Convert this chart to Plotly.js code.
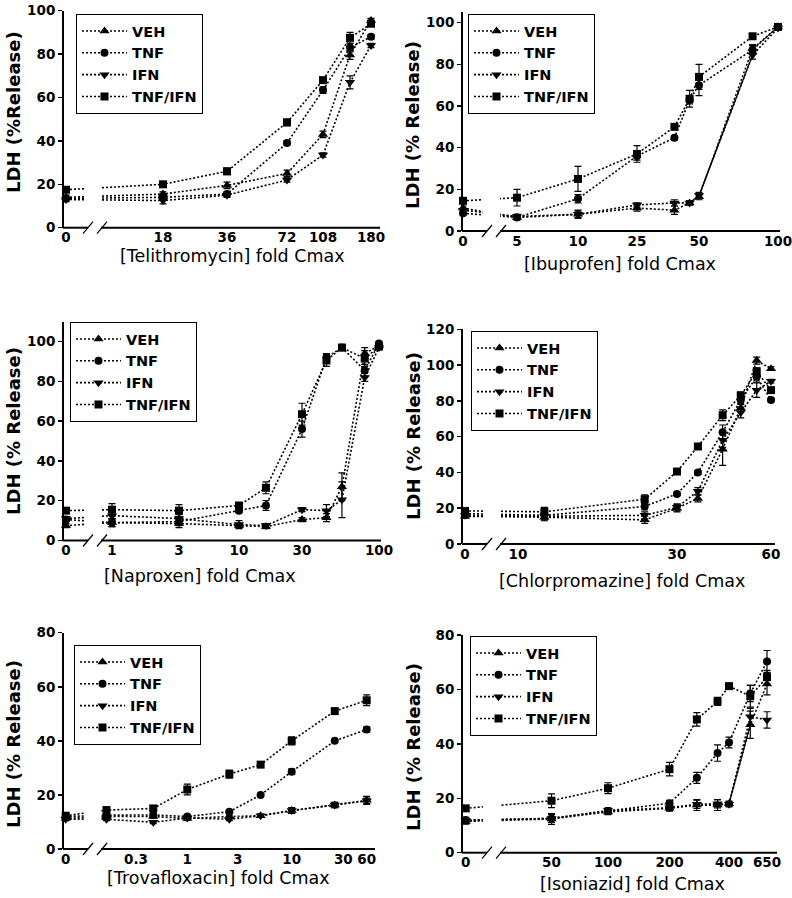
<!DOCTYPE html>
<html><head><meta charset="utf-8">
<script src="https://cdn.plot.ly/plotly-3.0.1.min.js"></script>
<style>html,body{margin:0;padding:0;background:#fff}#chart{width:792px;height:898px}</style>
</head><body><div id="chart"></div>
<script>
// ---------------- DATA ----------------
const seriesNames = ['VEH', 'TNF', 'IFN', 'TNF/IFN'];

// Telithromycin
const telConc = [0, 18, 36, 72, 108, 144, 180];
const telVEH = [14, 15.5, 19.5, 25, 43, 79.6, 95.5];
const telTNF = [13.5, 14, 15.5, 39, 63.4, 83, 88];
const telIFN = [13, 12.5, 15, 22, 33.5, 67, 84];
const telTNFIFN = [17.5, 20, 26, 48.5, 68, 87.5, 94];
const telErrVEH = [1, 1, 1.5, 1.5, 1.5, 2, 1];
const telErrTNF = [1, 1, 1, 1, 1.5, 2, 1];
const telErrIFN = [1, 1.5, 1, 1, 1, 3, 1];
const telErrTNFIFN = [1, 1, 1.5, 1.5, 1, 2.5, 1];
const telTicks = [0, 18, 36, 72, 108, 180];

// Ibuprofen
const ibuConc = [0, 5, 10, 25, 38, 45, 50, 80, 100];
const ibuVEH = [11, 6.5, 8, 11, 10, 13.5, 16.5, 87.5, 98];
const ibuTNF = [8.5, 6.5, 15.5, 36, 44.8, 63, 70, 87, 98];
const ibuIFN = [10, 7, 8, 12.5, 13.5, 13.5, 17, 84.5, 97.5];
const ibuTNFIFN = [14.5, 16, 25, 37, 50, 63.5, 74, 93.5, 98];
const ibuErrVEH = [1, 1, 2, 1.5, 2, 1, 1.5, 2, 1];
const ibuErrTNF = [1, 1, 2, 2, 1, 2, 5, 2, 1];
const ibuErrIFN = [1, 1, 1.5, 1, 1.5, 1, 1.5, 2, 1];
const ibuErrTNFIFN = [1.5, 4, 6, 4, 1, 4, 6, 1, 1];
const ibuTicks = [0, 5, 10, 25, 50, 100];

// Naproxen
const napConc = [0, 1, 3, 10, 16, 30, 44, 56, 80, 100];
const napVEH = [7.5, 9, 8.5, 7.5, 7, 10.5, 11.5, 27, 94, 98];
const napTNF = [10.5, 9, 9.5, 15, 17.6, 56, 92, 97, 85.5, 99];
const napIFN = [11, 12.5, 11, 8, 7.5, 15.5, 15, 20.5, 82, 97];
const napTNFIFN = [15, 15.5, 15, 17.6, 26.5, 63.5, 90.5, 97, 91.5, 97.5];
const napErrVEH = [1, 2, 2, 1, 1, 1, 2, 7, 3, 1];
const napErrTNF = [1, 2, 2, 1, 2.5, 4, 2, 1, 3, 1];
const napErrIFN = [1, 2, 2, 2, 1, 1, 3, 9, 2, 1];
const napErrTNFIFN = [1, 3, 3, 1.5, 3, 5.5, 3, 1, 4, 1];
const napTicks = [0, 1, 3, 10, 30, 100];

// Chlorpromazine
const chlConc = [0, 12, 24, 30, 35, 42, 48, 54, 60];
const chlVEH = [15.5, 15, 13.5, 20, 25.5, 53, 76, 102.5, 98];
const chlTNF = [17, 16, 21, 28, 40, 62.5, 80.5, 93.5, 80.5];
const chlIFN = [16, 15.5, 16, 20.5, 29.5, 58, 73.5, 86, 91];
const chlTNFIFN = [18.5, 18, 25, 40.5, 54.5, 72, 83, 96.5, 86];
const chlErrVEH = [1, 2, 2, 2, 2, 9, 2, 2, 1];
const chlErrTNF = [1, 2, 2, 1, 1, 4, 2, 3, 1];
const chlErrIFN = [1, 2, 2, 2, 2, 4, 3, 4, 1];
const chlErrTNFIFN = [1.5, 2.5, 2.5, 1, 1.5, 3, 2, 2, 1];
const chlTicks = [0, 10, 30, 60];

// Trovafloxacin
const troConc = [0, 0.15, 0.45, 1, 2.5, 5, 10, 25, 60];
const troVEH = [11.3, 12, 12, 11.3, 12, 12.3, 14.2, 16.3, 18];
const troTNF = [12, 12.5, 12.6, 12, 13.8, 20, 28.6, 40, 44.2];
const troIFN = [11, 11, 9.9, 11.5, 11, 12.3, 14.2, 16.3, 17.8];
const troTNFIFN = [12.3, 14.4, 15, 22, 27.7, 31.2, 40, 51, 55];
const troErrVEH = [0.5, 0.5, 0.5, 0.5, 0.5, 0.5, 1, 1, 1.5];
const troErrTNF = [0.5, 0.5, 0.5, 0.5, 0.5, 0.5, 1, 0.5, 1];
const troErrIFN = [0.5, 0.5, 0.5, 0.5, 0.5, 0.5, 1, 1, 1];
const troErrTNFIFN = [1, 1, 1, 2, 1.5, 0.5, 1.5, 0.5, 2];
const troTicks = [0, 0.3, 1, 3, 10, 30, 60];

// Isoniazid
const isoConc = [0, 50, 100, 200, 275, 350, 400, 525, 650];
const isoVEH = [11.5, 12.4, 15, 16.3, 17.5, 17.5, 18, 47, 62];
const isoTNF = [12, 12.6, 15.3, 18.2, 27.5, 36.6, 40.5, 58.5, 70.3];
const isoIFN = [11.8, 12.6, 15.5, 16.5, 17.8, 18, 17.8, 50, 48.8];
const isoTNFIFN = [16.3, 19.1, 23.7, 30.7, 49, 55.6, 61.2, 57.5, 64.5];
const isoErrVEH = [1, 2, 1, 1, 2, 2, 1, 5, 4];
const isoErrTNF = [1, 1.5, 1, 1, 2, 3, 2, 3, 4];
const isoErrIFN = [1, 1.5, 1, 1, 1.5, 1.5, 1, 3, 3];
const isoErrTNFIFN = [1, 2.5, 2, 2.5, 2.5, 1.5, 1, 4, 2.5];
const isoTicks = [0, 50, 100, 200, 400, 650];

// ---------------- LAYOUT CONFIG ----------------
const W = 792, H = 898;
const fx = p => p / W;
const fy = p => 1 - p / H;

const panels = [
  { drug: 'Telithromycin', conc: telConc, vals: [telVEH, telTNF, telIFN, telTNFIFN],
    errs: [telErrVEH, telErrTNF, telErrIFN, telErrTNFIFN], ticks: telTicks,
    tickPx: [66, 163, 227, 287, 323, 371], box: { l: 64, r: 380, t: 10.7, b: 227.7 }, yMax: 100,
    yTitle: 'LDH (%Release)', yTitleAt: [13, 112], xTitleAt: [233, 256], legendAt: [76, 14], solid: null },
  { drug: 'Ibuprofen', conc: ibuConc, vals: [ibuVEH, ibuTNF, ibuIFN, ibuTNFIFN],
    errs: [ibuErrVEH, ibuErrTNF, ibuErrIFN, ibuErrTNFIFN], ticks: ibuTicks,
    tickPx: [463, 517, 578, 637, 699, 778], box: { l: 463, r: 780, t: 11.7, b: 231 }, yMax: 105.3,
    yTitle: 'LDH (% Release)', yTitleAt: [413, 125], xTitleAt: [620, 264], legendAt: [468, 14], solid: { s: 2, from: 6 } },
  { drug: 'Naproxen', conc: napConc, vals: [napVEH, napTNF, napIFN, napTNFIFN],
    errs: [napErrVEH, napErrTNF, napErrIFN, napErrTNFIFN], ticks: napTicks,
    tickPx: [66, 112, 179, 239, 302, 379], box: { l: 64, r: 381, t: 321.7, b: 540.5 }, yMax: 110,
    yTitle: 'LDH (% Release)', yTitleAt: [13, 431], xTitleAt: [200, 576], legendAt: [70, 322], solid: null },
  { drug: 'Chlorpromazine', conc: chlConc, vals: [chlVEH, chlTNF, chlIFN, chlTNFIFN],
    errs: [chlErrVEH, chlErrTNF, chlErrIFN, chlErrTNFIFN], ticks: chlTicks,
    tickPx: [465, 518, 677, 771], box: { l: 463, r: 775, t: 329.3, b: 544 }, yMax: 120,
    yTitle: 'LDH (% Release)', yTitleAt: [413, 436], xTitleAt: [622, 581], legendAt: [471, 331], solid: null },
  { drug: 'Trovafloxacin', conc: troConc, vals: [troVEH, troTNF, troIFN, troTNFIFN],
    errs: [troErrVEH, troErrTNF, troErrIFN, troErrTNFIFN], ticks: troTicks,
    tickPx: [65.7, 136, 187.3, 237.7, 291.7, 343.3, 366.7], box: { l: 64, r: 375, t: 632.7, b: 849 }, yMax: 80,
    yTitle: 'LDH (% Release)', yTitleAt: [13, 744], xTitleAt: [218, 878], legendAt: [74, 645], solid: null },
  { drug: 'Isoniazid', conc: isoConc, vals: [isoVEH, isoTNF, isoIFN, isoTNFIFN],
    errs: [isoErrVEH, isoErrTNF, isoErrIFN, isoErrTNFIFN], ticks: isoTicks,
    tickPx: [465.7, 551.5, 608, 669.5, 729, 767], box: { l: 463, r: 777, t: 635, b: 852.7 }, yMax: 80,
    yTitle: 'LDH (% Release)', yTitleAt: [413, 747], xTitleAt: [632, 884], legendAt: [470, 636], solid: { s: 0, from: 6 } }
];

const symbols = ['triangle-up', 'circle', 'triangle-down', 'square'];
const msizes = [9, 8, 9, 8];
const FONT = 'DejaVu Sans, Verdana, sans-serif';
const tickFont = { family: FONT, size: 13.5, color: '#000', weight: 'bold' };

// broken log-like axis: concentration -> axis coordinate via tick anchors
function toAxis(c, p) {
  const t = p.ticks, px = p.tickPx;
  if (c <= 0) return px[0];
  const idx = [];
  for (let i = 0; i < t.length; i++) if (t[i] > 0) idx.push(i);
  let a = idx[0], b = idx[1];
  for (let k = 0; k < idx.length - 1; k++) {
    if (c >= t[idx[k]]) { a = idx[k]; b = idx[k + 1]; }
  }
  const f = (Math.log(c) - Math.log(t[a])) / (Math.log(t[b]) - Math.log(t[a]));
  return px[a] + f * (px[b] - px[a]);
}

const data = [];
const layout = {
  width: W, height: H, margin: { l: 0, r: 0, t: 0, b: 0 },
  paper_bgcolor: '#fff', plot_bgcolor: 'rgba(0,0,0,0)',
  showlegend: true, shapes: [], annotations: [],
  font: { family: FONT, color: '#000' }
};

panels.forEach((p, i) => {
  const n = i + 1;
  const xk = n === 1 ? 'xaxis' : 'xaxis' + n;
  const yk = n === 1 ? 'yaxis' : 'yaxis' + n;
  const xr = n === 1 ? 'x' : 'x' + n;
  const yr = n === 1 ? 'y' : 'y' + n;
  const lg = n === 1 ? 'legend' : 'legend' + n;
  const B = p.box;

  layout[xk] = {
    domain: [fx(B.l), fx(B.r)], range: [B.l, B.r], anchor: yr,
    showline: false, showgrid: false, zeroline: false, ticks: '',
    tickmode: 'array', tickvals: p.tickPx, ticktext: p.ticks.map(String),
    tickfont: tickFont, ticklabeloverflow: 'allow', fixedrange: true
  };
  layout[yk] = {
    domain: [fy(B.b), fy(B.t)], range: [0, p.yMax], anchor: xr,
    showline: true, linewidth: 2, linecolor: '#000', showgrid: false, zeroline: false,
    ticks: 'outside', ticklen: 4, tickwidth: 1.5, tickcolor: '#000',
    tick0: 0, dtick: 20, tickfont: tickFont, ticklabeloverflow: 'allow', fixedrange: true
  };
  layout[lg] = {
    x: fx(p.legendAt[0]), y: fy(p.legendAt[1]), xanchor: 'left', yanchor: 'top',
    bgcolor: '#fff', bordercolor: '#000', borderwidth: 1,
    font: { family: FONT, size: 14.5, color: '#000', weight: 'bold' },
    tracegroupgap: 0, traceorder: 'normal', itemwidth: 45
  };

  const xs = p.conc.map(c => toAxis(c, p));
  p.vals.forEach((v, s) => {
    data.push({
      type: 'scatter', mode: 'lines+markers', name: seriesNames[s],
      x: xs, y: v, xaxis: xr, yaxis: yr, legend: lg,
      cliponaxis: false,
      line: { color: '#000', width: 1.6, dash: '2px,2px' },
      marker: { symbol: symbols[s], size: msizes[s], color: '#000' },
      error_y: { type: 'data', array: p.errs[s], visible: true, color: '#000', thickness: 1.2, width: 3.5 }
    });
  });
  if (p.solid) {
    const s = p.solid.s, k = p.solid.from;
    data.push({
      type: 'scatter', mode: 'lines', showlegend: false, hoverinfo: 'skip',
      x: xs.slice(k, k + 2), y: p.vals[s].slice(k, k + 2), xaxis: xr, yaxis: yr, legend: lg,
      cliponaxis: false, line: { color: '#000', width: 1.2 }
    });
  }

  // axis break: mask, broken x axis line, slashes
  const sh = layout.shapes;
  sh.push({ type: 'rect', xref: 'paper', yref: 'paper', layer: 'above',
    x0: fx(B.l + 20), x1: fx(B.l + 37), y0: fy(B.b + 3), y1: fy(B.b - 70),
    fillcolor: '#fff', line: { width: 0 } });
  sh.push({ type: 'line', xref: 'paper', yref: 'paper', layer: 'above',
    x0: fx(B.l - 1), x1: fx(B.l + 24), y0: fy(B.b), y1: fy(B.b), line: { color: '#000', width: 2 } });
  sh.push({ type: 'line', xref: 'paper', yref: 'paper', layer: 'above',
    x0: fx(B.l + 37), x1: fx(B.r), y0: fy(B.b), y1: fy(B.b), line: { color: '#000', width: 2 } });
  sh.push({ type: 'line', xref: 'paper', yref: 'paper', layer: 'above',
    x0: fx(B.l + 19), x1: fx(B.l + 29), y0: fy(B.b + 6), y1: fy(B.b - 6), line: { color: '#000', width: 1.2 } });
  sh.push({ type: 'line', xref: 'paper', yref: 'paper', layer: 'above',
    x0: fx(B.l + 33), x1: fx(B.l + 43), y0: fy(B.b + 6), y1: fy(B.b - 6), line: { color: '#000', width: 1.2 } });

  // axis titles
  layout.annotations.push({
    xref: 'paper', yref: 'paper', x: fx(p.yTitleAt[0]), y: fy(p.yTitleAt[1]),
    xanchor: 'center', yanchor: 'middle', textangle: -90, showarrow: false,
    text: p.yTitle, font: { family: FONT, size: 18, color: '#000', weight: 'bold' }
  });
  layout.annotations.push({
    xref: 'paper', yref: 'paper', x: fx(p.xTitleAt[0]), y: fy(p.xTitleAt[1]),
    xanchor: 'center', yanchor: 'middle', showarrow: false,
    text: '[' + p.drug + '] fold Cmax', font: { family: FONT, size: 17.5, color: '#000' }
  });
});

Plotly.newPlot('chart', data, layout, { staticPlot: true, displayModeBar: false });
</script>
</body></html>
